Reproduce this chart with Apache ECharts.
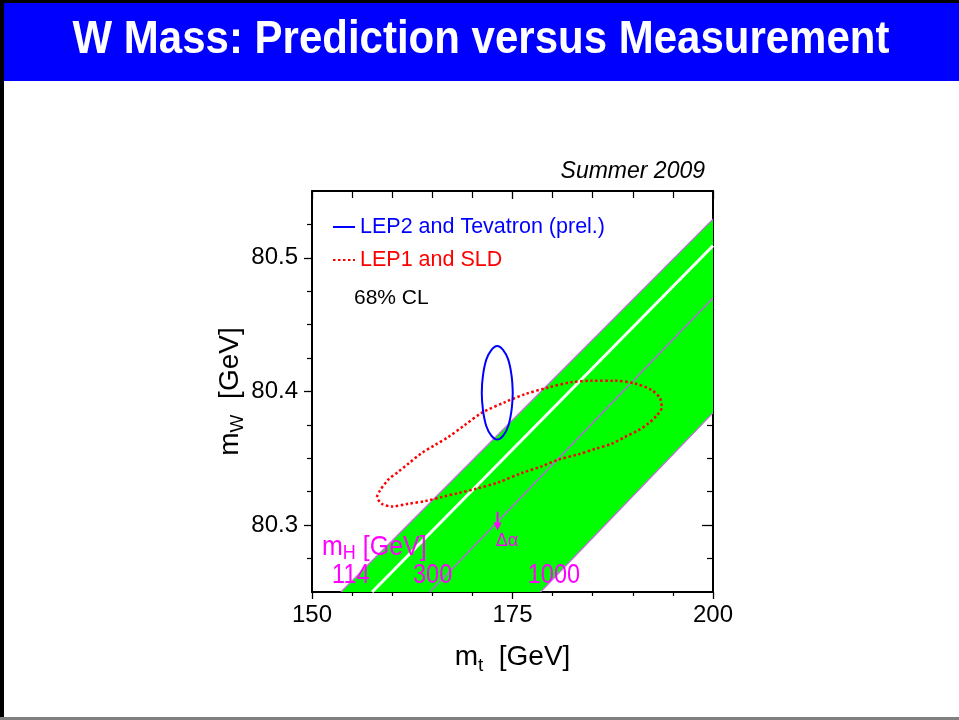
<!DOCTYPE html>
<html><head><meta charset="utf-8">
<script src="https://cdn.jsdelivr.net/npm/echarts@6/dist/echarts.min.js"></script>
<style>html,body{margin:0;padding:0;background:#fff}#c{width:959px;height:720px}</style>
</head><body><div id="c"></div>
<script>
// ---- data ----
const xRange = [150, 200];
const yRange = [80.25, 80.55];
const xMajorTicks = [150, 175, 200];
const yMajorTicks = [80.3, 80.4, 80.5];
const yMinorTicks = [80.275, 80.325, 80.35, 80.375, 80.425, 80.45, 80.475, 80.525];

// SM band (mH from 114 to 1000 GeV)
const bandUpper = [[153.6, 80.25], [200, 80.529]];   // mH = 114
const bandLower = [[178.5, 80.25], [200, 80.384]];   // mH = 1000
const whiteLine = [[157.5, 80.25], [200, 80.509]];
const mh300Line = [[164.7, 80.25], [200, 80.470]];

// LEP2 and Tevatron (prel.) 68% CL contour
const lep2Contour = [
  [175.03, 80.399], [174.88, 80.412], [174.46, 80.424], [173.84, 80.431], [173.10, 80.434],
  [172.36, 80.431], [171.74, 80.424], [171.32, 80.412], [171.17, 80.399], [171.32, 80.386],
  [171.74, 80.374], [172.36, 80.367], [173.10, 80.364], [173.84, 80.367], [174.46, 80.374],
  [174.88, 80.386], [175.03, 80.399]
];
// LEP1 and SLD 68% CL contour
const lep1Contour = [
  [158.07, 80.321], [158.48, 80.326], [159.51, 80.334], [160.76, 80.340], [162.01, 80.346],
  [163.68, 80.354], [165.34, 80.360], [167.00, 80.366], [169.08, 80.375], [171.16, 80.384],
  [174.06, 80.392], [176.56, 80.398], [179.46, 80.403], [182.38, 80.407], [184.88, 80.408],
  [187.78, 80.408], [190.27, 80.406], [192.36, 80.401], [193.39, 80.395], [193.60, 80.388],
  [192.98, 80.382], [191.93, 80.376], [190.69, 80.371], [189.03, 80.366], [187.37, 80.361],
  [185.29, 80.357], [183.20, 80.353], [180.71, 80.349], [178.64, 80.344], [176.15, 80.339],
  [173.23, 80.332], [170.32, 80.327], [168.24, 80.324], [166.17, 80.321], [164.09, 80.318],
  [162.01, 80.316], [159.94, 80.314], [158.69, 80.316], [158.07, 80.321]
];
const deltaAlphaArrow = [[173.14, 80.310], [173.14, 80.299]];
const mhLabels = [['114', 152.5, 80.2515], ['300', 162.6, 80.2515], ['1000', 176.9, 80.2515]];
const mhTitleAt = [151.25, 80.271];
const deltaAlphaAt = [174.3, 80.288];

// ---- chart ----
const FF = '"Liberation Sans", Arial, Helvetica, sans-serif';
const chart = echarts.init(document.getElementById('c'), null, {renderer: 'canvas'});

function yAxisDef(opts) {
  return Object.assign({
    type: 'value', min: yRange[0], max: yRange[1], gridIndex: 0,
    splitLine: {show: false}, axisLabel: {show: false},
    axisLine: {show: false}
  }, opts);
}

const option = {
  backgroundColor: '#ffffff',
  animation: false,
  grid: {left: 312, top: 191, width: 401, height: 401, containLabel: false},
  xAxis: [
    {type: 'value', min: xRange[0], max: xRange[1], interval: 25, position: 'bottom',
     axisLine: {show: true, onZero: false, lineStyle: {color: '#000', width: 2}},
     axisTick: {show: true, inside: false, length: 7, lineStyle: {color: '#000', width: 1.3}},
     minorTick: {show: true, splitNumber: 5, length: 4, lineStyle: {color: '#000', width: 1.2}},
     splitLine: {show: false},
     axisLabel: {show: true, margin: 11, fontSize: 24, color: '#000', fontFamily: FF},
     name: '{m|m}{s|t}{g|  [GeV]}', nameLocation: 'middle', nameGap: 48,
     nameTextStyle: {fontFamily: FF, color: '#000', rich: {
       m: {fontSize: 28, fontFamily: FF, color: '#000'},
       s: {fontSize: 19, fontFamily: FF, color: '#000', padding: [16, 0, 0, 0]},
       g: {fontSize: 28, fontFamily: FF, color: '#000'}}}},
    {type: 'value', min: xRange[0], max: xRange[1], interval: 25, position: 'top',
     axisLine: {show: true, onZero: false, lineStyle: {color: '#000', width: 2}},
     axisTick: {show: true, inside: true, length: 8, lineStyle: {color: '#000', width: 1.3}},
     minorTick: {show: true, splitNumber: 5, length: 7, lineStyle: {color: '#000', width: 1.2}},
     splitLine: {show: false}, axisLabel: {show: false}}
  ],
  yAxis: [
    yAxisDef({position: 'left',
      axisLine: {show: true, onZero: false, lineStyle: {color: '#000', width: 2}},
      axisTick: {show: true, inside: false, length: 8, customValues: yMajorTicks, lineStyle: {color: '#000', width: 1.3}},
      axisLabel: {show: true, customValues: yMajorTicks, margin: 14, fontSize: 24, color: '#000', fontFamily: FF,
                  formatter: v => Number(v).toFixed(1)},
      name: '{m|m}{s|W}{g|  [GeV]}', nameLocation: 'middle', nameGap: 62, nameRotate: 90,
      nameTextStyle: {fontFamily: FF, color: '#000', rich: {
        m: {fontSize: 28, fontFamily: FF, color: '#000'},
        s: {fontSize: 19, fontFamily: FF, color: '#000', padding: [16, 0, 0, 0]},
        g: {fontSize: 28, fontFamily: FF, color: '#000'}}}}),
    yAxisDef({position: 'left', offset: 0,
      axisTick: {show: true, inside: false, length: 5, customValues: yMinorTicks, lineStyle: {color: '#000', width: 1.2}}}),
    yAxisDef({position: 'right', offset: 0,
      axisLine: {show: true, onZero: false, lineStyle: {color: '#000', width: 2}},
      axisTick: {show: true, inside: true, length: 11, customValues: yMajorTicks, lineStyle: {color: '#000', width: 1.3}}}),
    yAxisDef({position: 'right', offset: 0,
      axisTick: {show: true, inside: true, length: 6, customValues: yMinorTicks, lineStyle: {color: '#000', width: 1.2}}})
  ],
  legend: {
    orient: 'vertical', left: 327, top: 211, itemWidth: 22, itemHeight: 12, itemGap: 11,
    selectedMode: false,
    itemStyle: {opacity: 0},
    textStyle: {fontSize: 21.5, fontFamily: FF},
    data: [
      {name: 'LEP2 and Tevatron (prel.)', textStyle: {color: '#0000ff'}, itemStyle: {opacity: 0}},
      {name: 'LEP1 and SLD', textStyle: {color: '#ff0000'}, itemStyle: {opacity: 0}}
    ]
  },
  graphic: [
    {type: 'rect', left: 0, top: 0, shape: {width: 959, height: 3}, style: {fill: '#000'}, z: 10},
    {type: 'rect', left: 3, top: 3, shape: {width: 956, height: 78}, style: {fill: '#0000ff'}, z: 10},
    {type: 'rect', left: 0, top: 0, shape: {width: 4, height: 720}, style: {fill: '#000'}, z: 10},
    {type: 'rect', left: 0, top: 717, shape: {width: 959, height: 3}, style: {fill: '#808080'}, z: 10},
    {type: 'text', x: 481, y: 40, scaleY: 1.12, z: 11,
     style: {text: 'W Mass: Prediction versus Measurement', fill: '#fff', align: 'center', verticalAlign: 'middle',
             font: 'bold 42px ' + FF}},
    {type: 'text', x: 705, y: 172, z: 11,
     style: {text: 'Summer 2009', fill: '#000', align: 'right', verticalAlign: 'middle', font: 'italic 23px ' + FF}},
    {type: 'text', x: 354, y: 298, z: 11,
     style: {text: '68% CL', fill: '#000', align: 'left', verticalAlign: 'middle', font: '21px ' + FF}}
  ],
  series: [
    {type: 'custom', name: 'SM band', silent: true, clip: true, z: 1,
     data: [bandUpper[0]],
     renderItem: function (params, api) {
       const pts = [bandUpper[0], bandUpper[1], bandLower[1], bandLower[0]].map(p => api.coord(p));
       return {type: 'polygon', shape: {points: pts}, style: {fill: '#00ff00'}};
     }},
    {type: 'line', name: 'white', data: whiteLine, symbol: 'none', silent: true, z: 2,
     lineStyle: {color: '#ffffff', width: 3}},
    {type: 'line', name: 'edgeU', data: bandUpper, symbol: 'none', silent: true, z: 2,
     lineStyle: {color: '#cc66e6', width: 1.2}},
    {type: 'line', name: 'edgeL', data: bandLower, symbol: 'none', silent: true, z: 2,
     lineStyle: {color: '#cc66e6', width: 1.2}},
    {type: 'line', name: 'mH300', data: mh300Line, symbol: 'none', silent: true, z: 2,
     lineStyle: {color: '#b866e0', width: 1.5}},
    {type: 'line', name: 'LEP1 and SLD', data: lep1Contour, symbol: 'none', smooth: 0.3, z: 4,
     lineStyle: {color: '#ff0000', width: 2.5, type: [2.5, 2.5]}, itemStyle: {color: '#ff0000'}},
    {type: 'line', name: 'LEP2 and Tevatron (prel.)', data: lep2Contour, symbol: 'none', smooth: 0.4, z: 5,
     lineStyle: {color: '#0000ff', width: 2}, itemStyle: {color: '#0000ff'}},
    {type: 'line', name: 'arrow', z: 5, silent: true, showSymbol: true,
     data: [{value: deltaAlphaArrow[0], symbol: 'none'},
            {value: deltaAlphaArrow[1], symbol: 'triangle', symbolRotate: 180, symbolSize: [8, 8]}],
     lineStyle: {color: '#ff00ff', width: 2}, itemStyle: {color: '#ff00ff'}},
    {type: 'custom', name: 'mH labels', clip: false, silent: true, z: 6,
     data: mhLabels.map(l => [l[1], l[2]]),
     renderItem: function (params, api) {
       const c = api.coord([api.value(0), api.value(1)]);
       return {type: 'text', x: c[0], y: c[1], scaleY: 1.18,
               style: {text: mhLabels[params.dataIndex][0], fill: '#ff00ff', align: 'left', verticalAlign: 'bottom',
                       font: '23.5px ' + FF}};
     }},
    {type: 'custom', name: 'mH title', clip: false, silent: true, z: 6,
     data: [mhTitleAt],
     renderItem: function (params, api) {
       const c = api.coord([api.value(0), api.value(1)]);
       return {type: 'text', x: c[0], y: c[1], scaleY: 1.1,
               style: {text: '{m|m}{s|H}{g| [GeV]}', align: 'left', verticalAlign: 'bottom',
                       rich: {m: {fontSize: 25, fontFamily: FF, fill: '#ff00ff', color: '#ff00ff'},
                              s: {fontSize: 18, fontFamily: FF, fill: '#ff00ff', color: '#ff00ff', padding: [12, 0, 0, 0]},
                              g: {fontSize: 25, fontFamily: FF, fill: '#ff00ff', color: '#ff00ff'}}}};
     }},
    {type: 'custom', name: 'delta alpha', clip: false, silent: true, z: 6,
     data: [deltaAlphaAt],
     renderItem: function (params, api) {
       const c = api.coord([api.value(0), api.value(1)]);
       return {type: 'text', x: c[0], y: c[1],
               style: {text: 'Δα', fill: '#ff00ff', align: 'center', verticalAlign: 'middle', font: '18px ' + FF}};
     }}
  ]
};
chart.setOption(option);
</script>
</body></html>
